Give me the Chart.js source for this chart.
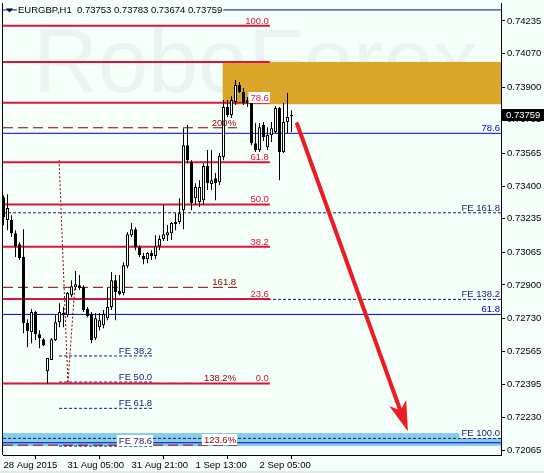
<!DOCTYPE html>
<html>
<head>
<meta charset="utf-8">
<script src="https://cdn.jsdelivr.net/npm/chart.js@4.4.0/dist/chart.umd.min.js"></script>
<style>
  html, body { margin: 0; padding: 0; background: #e4e8e6; }
  #wrap { width: 544px; height: 473px; }
</style>
</head>
<body>
<div id="wrap"><canvas id="chart" width="544" height="473"></canvas></div>
<script>
// EURGBP H1 candles (bar index 0 = 28 Aug 2015 13:00)
const opens = [0.73344,0.73228,0.73228,0.73162,0.73106,0.73041,0.72707,0.72661,0.72763,0.72651,0.72626,0.72464,0.72520,0.72621,0.72712,0.72747,0.72747,0.72848,0.72889,0.72899,0.72889,0.72778,0.72753,0.72631,0.72686,0.72696,0.72732,0.72788,0.72924,0.72869,0.72859,0.72995,0.73152,0.73182,0.73091,0.73046,0.73030,0.73061,0.73046,0.73096,0.73132,0.73152,0.73162,0.73208,0.73218,0.73278,0.73607,0.73521,0.73339,0.73319,0.73329,0.73501,0.73410,0.73440,0.73420,0.73547,0.73800,0.73759,0.73825,0.73911,0.73876,0.73835,0.73820,0.73617,0.73582,0.73709,0.73597,0.73658,0.73673,0.73795,0.73572,0.73724,0.73753];
const highs = [0.73354,0.73359,0.73253,0.73177,0.73116,0.73182,0.72727,0.72778,0.72768,0.72671,0.72631,0.72530,0.72631,0.72747,0.72808,0.72788,0.72864,0.72924,0.72970,0.72950,0.72899,0.72788,0.72763,0.72758,0.72758,0.72773,0.72889,0.72965,0.72950,0.72950,0.73015,0.73167,0.73213,0.73192,0.73101,0.73061,0.73066,0.73076,0.73152,0.73152,0.73304,0.73203,0.73218,0.73263,0.73339,0.73693,0.73709,0.73531,0.73415,0.73430,0.73516,0.73582,0.73582,0.73466,0.73567,0.73835,0.73835,0.73855,0.73936,0.73926,0.73896,0.73850,0.73850,0.73719,0.73719,0.73724,0.73698,0.73724,0.73805,0.73800,0.73820,0.73871,0.73783];
const lows = [0.73203,0.73177,0.73142,0.73041,0.73026,0.72656,0.72585,0.72605,0.72621,0.72580,0.72590,0.72402,0.72520,0.72616,0.72686,0.72686,0.72737,0.72838,0.72874,0.72874,0.72763,0.72737,0.72605,0.72621,0.72671,0.72681,0.72722,0.72773,0.72722,0.72848,0.72848,0.72985,0.73142,0.73076,0.73041,0.73005,0.73010,0.73026,0.73030,0.73076,0.73122,0.73122,0.73127,0.73177,0.73208,0.73182,0.73516,0.73278,0.73304,0.73294,0.73304,0.73380,0.73380,0.73329,0.73405,0.73531,0.73749,0.73744,0.73810,0.73871,0.73810,0.73800,0.73607,0.73572,0.73572,0.73628,0.73582,0.73623,0.73668,0.73430,0.73567,0.73668,0.73674];
const closes = [0.73243,0.73289,0.73162,0.73096,0.73036,0.72707,0.72666,0.72763,0.72651,0.72631,0.72595,0.72530,0.72626,0.72712,0.72763,0.72758,0.72859,0.72894,0.72904,0.72884,0.72773,0.72742,0.72621,0.72732,0.72722,0.72753,0.72788,0.72924,0.72864,0.72853,0.73000,0.73157,0.73182,0.73091,0.73051,0.73030,0.73061,0.73046,0.73096,0.73132,0.73157,0.73167,0.73213,0.73218,0.73263,0.73607,0.73531,0.73314,0.73395,0.73395,0.73501,0.73415,0.73430,0.73415,0.73552,0.73800,0.73759,0.73835,0.73911,0.73876,0.73820,0.73820,0.73617,0.73582,0.73698,0.73648,0.73658,0.73693,0.73795,0.73572,0.73724,0.73749,0.73759];

// axes
const xTickIdx = [0, 16, 32, 48, 64];
const xTickLabels = ["28 Aug 2015", "31 Aug 05:00", "31 Aug 21:00", "1 Sep 13:00", "2 Sep 05:00"];
const yTickValues = [0.74235, 0.74070, 0.73900, 0.73735, 0.73565, 0.73400, 0.73235, 0.73065, 0.72900, 0.72730, 0.72565, 0.72395, 0.72230, 0.72065];
const xMin = -0.125, xMax = 124.375;
const yMin = 0.72040, yMax = 0.74326;
const lastPrice = 0.73759;

// fibo retracement (red)
const fiboLevels = [0.74211, 0.74028, 0.73822, 0.73520, 0.73307, 0.73093, 0.72829, 0.72402];
const fiboLabels = ["100.0", "", "78.6", "61.8", "50.0", "38.2", "23.6", "0.0"];
const fiboEnd = 66.6;
// fibo expansion (dark red dashed)
const expLevels = [0.73695, 0.72888, 0.72402, 0.72090];
const expLabels = ["200%", "161.8", "138.2%", "123.6%"];
const expEnd = 58.4;
// FE levels, long and short (navy dashed)
const feLongLevels = [0.73265, 0.72827, 0.72124];
const feLongLabels = ["FE 161.8", "FE 138.2", "FE 100.0"];
const feShortLevels = [0.72541, 0.72409, 0.72276, 0.72085];
const feShortLabels = ["FE 38.2", "FE 50.0", "FE 61.8", "FE 78.6"];
const feShortStart = 13.9, feShortEnd = 37.4;
// blue lines
const blueLevels = [0.74291, 0.73667, 0.72751, 0.72102];
const blueLabels = ["", "78.6", "61.8", ""];
// dotted trend of the expansion
const trendX = [13.9, 16.1, 17.9];
const trendY = [0.73531, 0.72403, 0.72909];
// zones
const zoneStart = 54.8, zoneTop = 0.74028, zoneBottom = 0.73814;
const bandTop = 0.72151, bandBottom = 0.72085;
// forecast arrow
const arrowX = [73.4, 99.4];
const arrowY = [0.73714, 0.72255];
const arrowTip = [101.1, 0.72160];

const BG = "#f5fffa";
const RED = "#dc143c", DARKRED = "#8b0000", NAVY = "#191970", BLUE = "#0000cd";
const FONT = { family: "'Liberation Sans', Arial, sans-serif", size: 9.5 };
const fontStr = "9.5px 'Liberation Sans', Arial, sans-serif";

const idx = opens.map((_, i) => i);
const bull = idx.map(i => closes[i] >= opens[i]);

const hLine = (y, x0, x1, color, width, dash) => ({
  type: "line",
  data: [{ x: x0, y: y }, { x: x1, y: y }],
  borderColor: color, borderWidth: width, borderDash: dash || [],
  pointRadius: 0, fill: false, tension: 0
});

const datasets = [];
// candles on top
datasets.push({
  type: "bar",
  data: idx.map(i => ({ x: i, y: [opens[i], closes[i]] })),
  backgroundColor: idx.map(i => bull[i] ? "#ffffff" : "#000000"),
  borderColor: "#000000", borderWidth: 1, borderSkipped: false,
  barThickness: 3, grouped: false, inflateAmount: 0
});
datasets.push({
  type: "bar",
  data: idx.map(i => ({ x: i, y: [lows[i], highs[i]] })),
  backgroundColor: "#000000", borderWidth: 0,
  barThickness: 1, grouped: false, inflateAmount: 0
});
// arrow
datasets.push({
  type: "line",
  data: arrowX.map((x, k) => ({ x: x, y: arrowY[k] })),
  borderColor: "#ec1c24", borderWidth: 4, pointRadius: 0, fill: false, borderCapStyle: "round"
});
fiboLevels.forEach(v => datasets.push(hLine(v, xMin, fiboEnd, RED, 2)));
expLevels.forEach(v => datasets.push(hLine(v, xMin, expEnd, DARKRED, 1, [10, 5])));
feLongLevels.forEach(v => datasets.push(hLine(v, xMin, xMax, NAVY, 1, [3, 2])));
feShortLevels.forEach(v => datasets.push(hLine(v, feShortStart, feShortEnd, NAVY, 1, [3, 2])));
blueLevels.forEach(v => datasets.push(hLine(v, xMin, xMax, BLUE, 1)));
datasets.push({
  type: "line",
  data: trendX.map((x, k) => ({ x: x, y: trendY[k] })),
  borderColor: DARKRED, borderWidth: 1, borderDash: [2, 2], pointRadius: 0, fill: false, tension: 0
});

// labels for the level lines
const labelDefs = [];
fiboLevels.forEach((v, k) => { if (fiboLabels[k]) labelDefs.push({ t: fiboLabels[k], x: fiboEnd, y: v, c: RED, box: fiboLabels[k] === "78.6" ? "#ffffff" : null }); });
expLevels.forEach((v, k) => labelDefs.push({ t: expLabels[k], x: expEnd, y: v, c: DARKRED, box: expLabels[k] === "123.6%" ? "#ffffff" : null }));
feLongLevels.forEach((v, k) => labelDefs.push({ t: feLongLabels[k], x: xMax, y: v, c: NAVY, box: feLongLabels[k] === "FE 100.0" ? BG : null }));
feShortLevels.forEach((v, k) => labelDefs.push({ t: feShortLabels[k], x: feShortEnd, y: v, c: NAVY, box: feShortLabels[k] === "FE 78.6" ? "#ffffff" : null }));
blueLevels.forEach((v, k) => { if (blueLabels[k]) labelDefs.push({ t: blueLabels[k], x: xMax, y: v, c: BLUE, box: null }); });

const decor = {
  id: "decor",
  beforeDraw(chart) {
    const ctx = chart.ctx;
    ctx.save();
    ctx.fillStyle = BG;
    ctx.fillRect(0, 0, chart.width, chart.height - 2);
    ctx.restore();
  },
  beforeDatasetsDraw(chart) {
    const { ctx, chartArea: a, scales: { x, y } } = chart;
    ctx.save();
    // watermark
    ctx.fillStyle = "#eaf3f1";
    ctx.font = "90px 'Liberation Sans', Arial, sans-serif";
    ctx.textBaseline = "alphabetic";
    ctx.fillText("RoboForex", 33, 92);
    // resistance zone
    ctx.fillStyle = "#daa62a";
    const zx = x.getPixelForValue(zoneStart);
    ctx.fillRect(zx, y.getPixelForValue(zoneTop), a.right - zx, y.getPixelForValue(zoneBottom) - y.getPixelForValue(zoneTop));
    // target band
    ctx.fillStyle = "#87cde8";
    ctx.fillRect(a.left, y.getPixelForValue(bandTop), a.right - a.left, y.getPixelForValue(bandBottom) - y.getPixelForValue(bandTop));
    ctx.restore();
  },
  afterDatasetsDraw(chart) {
    const { ctx, scales: { x, y } } = chart;
    ctx.save();
    ctx.font = fontStr;
    ctx.textAlign = "right";
    ctx.textBaseline = "alphabetic";
    labelDefs.forEach(d => {
      const px = Math.min(x.getPixelForValue(d.x), chart.chartArea.right) - 1;
      const py = Math.round(y.getPixelForValue(d.y)) - 2;
      const w = ctx.measureText(d.t).width;
      if (d.box) {
        ctx.fillStyle = d.box;
        ctx.fillRect(px - w - 2, py - 9, w + 3, 11);
      }
      ctx.fillStyle = d.c;
      ctx.fillText(d.t, px, py);
    });
    // arrow head
    const sx = x.getPixelForValue(arrowX[0]), sy = y.getPixelForValue(arrowY[0]);
    const tx = x.getPixelForValue(arrowTip[0]), ty = y.getPixelForValue(arrowTip[1]);
    const len = Math.hypot(tx - sx, ty - sy);
    const dx = (tx - sx) / len, dy = (ty - sy) / len;
    ctx.fillStyle = "#ec1c24";
    ctx.beginPath();
    ctx.moveTo(tx, ty);
    ctx.lineTo(tx - 30 * dx + 9 * dy, ty - 30 * dy - 9 * dx);
    ctx.lineTo(tx - 22 * dx, ty - 22 * dy);
    ctx.lineTo(tx - 30 * dx - 9 * dy, ty - 30 * dy + 9 * dx);
    ctx.closePath();
    ctx.fill();
    ctx.restore();
  },
  afterDraw(chart) {
    const { ctx, chartArea: a, scales: { y } } = chart;
    ctx.save();
    // left frame
    ctx.strokeStyle = "#000";
    ctx.lineWidth = 1;
    ctx.beginPath();
    ctx.moveTo(a.left - 0.5, a.top);
    ctx.lineTo(a.left - 0.5, a.bottom);
    ctx.stroke();
    // header
    ctx.font = fontStr;
    ctx.textBaseline = "middle";
    ctx.textAlign = "left";
    const head = "EURGBP,H1  0.73753 0.73783 0.73674 0.73759";
    const hw = ctx.measureText(head).width;
    ctx.fillStyle = BG;
    ctx.fillRect(17, 5, hw + 2, 11);
    ctx.fillStyle = "#000";
    ctx.fillText(head, 18, 10.5);
    ctx.beginPath();
    ctx.moveTo(6, 8.5); ctx.lineTo(13, 8.5); ctx.lineTo(9.5, 12.5);
    ctx.closePath();
    ctx.fill();
    // last price marker
    const py = Math.round(y.getPixelForValue(lastPrice));
    ctx.fillStyle = "#000";
    ctx.fillRect(a.right + 1, py - 6, chart.width - a.right - 1, 12);
    ctx.fillStyle = "#fff";
    ctx.fillText(lastPrice.toFixed(5), a.right + 5, py + 0.5);
    ctx.restore();
  }
};

new Chart(document.getElementById("chart"), {
  type: "bar",
  data: { datasets },
  options: {
    responsive: false,
    animation: false,
    devicePixelRatio: 1,
    layout: { padding: { left: 3, top: 3, right: 0, bottom: 0 } },
    plugins: { legend: { display: false }, tooltip: { enabled: false } },
    scales: {
      x: {
        type: "linear", position: "bottom", min: xMin, max: xMax, offset: false,
        grid: { drawOnChartArea: false, drawTicks: true, tickLength: 4, color: "#000" },
        border: { display: true, color: "#000" },
        ticks: {
          align: "start", padding: 1, color: "#000", font: FONT, maxRotation: 0, autoSkip: false,
          callback: v => xTickLabels[xTickIdx.indexOf(v)] || ""
        },
        afterBuildTicks: s => { s.ticks = xTickIdx.map(v => ({ value: v })); },
        afterFit: s => { s.height = 18; s.paddingLeft = 0; s.paddingRight = 0; }
      },
      y: {
        type: "linear", position: "right", min: yMin, max: yMax,
        grid: { drawOnChartArea: false, drawTicks: true, tickLength: 4, color: "#000" },
        border: { display: true, color: "#000" },
        ticks: { padding: 2, color: "#000", font: FONT, callback: v => v.toFixed(5) },
        afterBuildTicks: s => { s.ticks = yTickValues.map(v => ({ value: v })); },
        afterFit: s => { s.width = 43; s.paddingTop = 0; s.paddingBottom = 0; }
      }
    }
  },
  plugins: [decor]
});
</script>
</body>
</html>
